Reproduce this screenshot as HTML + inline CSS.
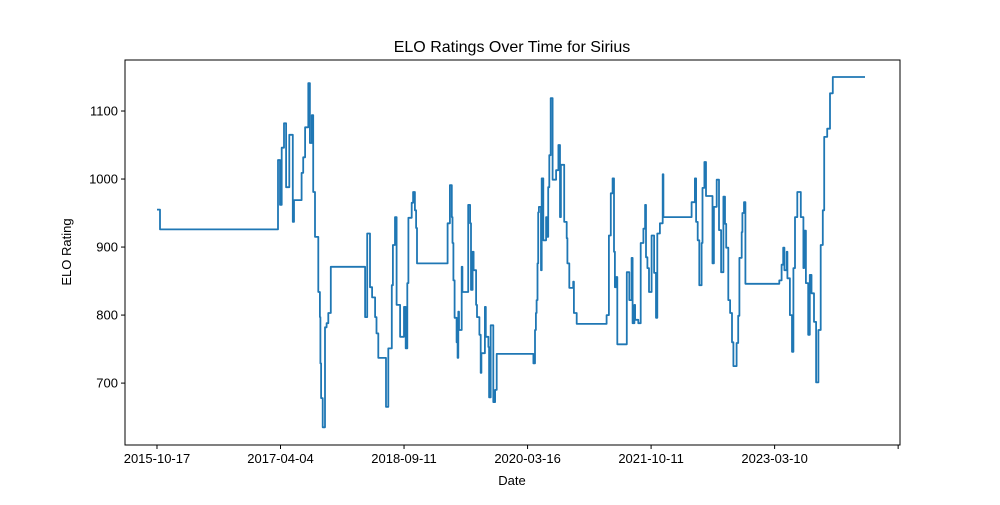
<!DOCTYPE html>
<html><head><meta charset="utf-8"><style>
body{margin:0;background:#fff;font-family:"Liberation Sans",sans-serif}
svg text{font-family:"Liberation Sans",sans-serif;fill:#000}
</style></head><body>
<svg id="chart" width="1000" height="500" viewBox="0 0 1000 500" xmlns="http://www.w3.org/2000/svg">
<rect width="1000" height="500" fill="#fff"/>
<text x="512" y="52" font-size="16" text-anchor="middle">ELO Ratings Over Time for Sirius</text>
<g id="plot"></g>
<rect x="125" y="60" width="775" height="385" fill="none" stroke="#000" stroke-width="1"/>
<text x="512" y="485" font-size="13" text-anchor="middle">Date</text>
<text x="71" y="252" font-size="13" text-anchor="middle" transform="rotate(-90 71 252)">ELO Rating</text>
</svg>
<script>
const days = [0,13,522,531,538,548,557,571,586,591,624,631,639,653,660,668,674,682,696,703,705,708,715,725,732,739,750,898,907,919,928,941,947,955,988,998,1013,1018,1027,1034,1049,1066,1073,1080,1085,1099,1105,1113,1118,1122,1254,1264,1272,1275,1279,1284,1293,1297,1300,1303,1315,1318,1343,1351,1355,1362,1366,1377,1381,1391,1397,1400,1415,1419,1430,1433,1440,1451,1459,1466,1624,1631,1635,1638,1642,1645,1648,1657,1660,1667,1679,1683,1688,1693,1699,1707,1722,1732,1739,1743,1757,1768,1771,1779,1796,1799,1811,1940,1950,1958,1966,1972,1976,1981,1986,2027,2038,2048,2052,2060,2063,2077,2087,2099,2106,2110,2116,2123,2134,2145,2153,2159,2170,2182,2185,2307,2321,2326,2333,2340,2350,2354,2362,2369,2397,2403,2415,2425,2434,2444,2451,2456,2465,2473,2481,2487,2501,2508,2513,2523,2526,2533,2539,2685,2695,2702,2707,2717,2720,2731,2740,2746,2753,2763,2778,2789,2792,2800,2810,2817,2824,2835,2844,2854,2864,2873,2879,2892,2904,2916,3055];
const ratings = [955,926,1028,962,1046,1082,988,1065,937,969,1009,1032,1076,1141,1053,1094,981,915,834,797,729,678,635,782,788,803,871,797,920,841,826,797,773,737,665,751,844,903,944,815,768,812,751,847,943,965,981,954,928,876,935,991,944,906,851,796,760,737,805,778,871,834,962,935,837,893,866,815,797,771,715,744,812,768,753,679,785,672,690,743,729,778,803,822,876,951,959,866,1001,910,944,915,988,1035,1119,999,1013,1050,944,1021,937,913,876,840,849,803,787,800,917,979,1001,893,841,856,757,863,822,884,788,815,793,788,906,927,962,885,869,834,917,862,796,920,935,1007,944,966,1001,937,910,844,906,987,1025,975,876,959,999,925,863,974,934,899,822,803,760,725,759,799,884,922,950,966,846,851,874,899,866,893,854,800,746,869,944,981,944,869,924,847,771,859,832,790,701,778,903,954,1062,1074,1126,1150,1150];
const xTickVals = [0,533,1066,1599,2132,2665,3198];
const xTickLabels = ["2015-10-17","2017-04-04","2018-09-11","2020-03-16","2021-10-11","2023-03-10",""];
const yTickVals = [700,800,900,1000,1100];

const X0=125,X1=900,Y0=60,Y1=445;
const dMin=-138,dMax=3206,vMin=609,vMax=1175;
const sx=d=>X0+(d-dMin)/(dMax-dMin)*(X1-X0);
const sy=v=>Y1-(v-vMin)/(vMax-vMin)*(Y1-Y0);
const NS="http://www.w3.org/2000/svg";
const g=document.getElementById('plot');
function mk(t,a){const e=document.createElementNS(NS,t);for(const k in a)e.setAttribute(k,a[k]);return e;}

xTickVals.forEach((d,i)=>{
  const x=sx(d);
  const t=mk('line',{x1:x,x2:x,y1:Y1,y2:Y1+4,stroke:'#000'});
  
  
  g.appendChild(t);
  const l=mk('text',{x:x,y:Y1+18,'font-size':13,'text-anchor':'middle'});
  
  
  l.textContent=xTickLabels[i];g.appendChild(l);
});
yTickVals.forEach(v=>{
  const y=sy(v);
  const t=mk('line',{x1:X0-4,x2:X0,y1:y,y2:y,stroke:'#000'});
  
  
  g.appendChild(t);
  const l=mk('text',{x:X0-7,y:y+4.5,'font-size':13,'text-anchor':'end'});
  
  
  l.textContent=v;g.appendChild(l);
});
let d='';
for(let i=0;i<days.length;i++){
  const x=sx(days[i]).toFixed(1),y=sy(ratings[i]).toFixed(1);
  if(i===0)d+='M'+x+' '+y;
  else d+=' H'+x+' V'+y;
}
const p=mk('path',{d:d,fill:'none',stroke:'#1f77b4','stroke-width':1.8,'stroke-linejoin':'round'});


g.appendChild(p);
</script>
</body></html>
